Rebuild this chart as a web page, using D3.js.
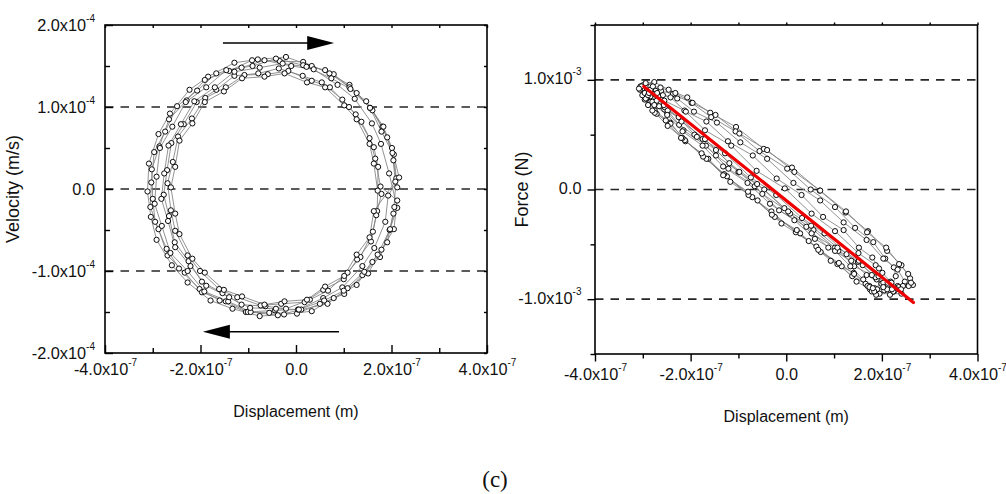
<!DOCTYPE html>
<html>
<head>
<meta charset="utf-8">
<script src="https://cdn.jsdelivr.net/npm/d3@7"></script>
<style>
  html, body { margin: 0; padding: 0; background: #fff; }
  svg { display: block; }
</style>
</head>
<body>
<svg id="chart" width="1006" height="494"></svg>
<script>
// Units used in the data arrays: displacement ×1e-7 m, velocity ×1e-4 m/s, force ×1e-3 N
const DISP_UNIT = 1e-7, VEL_UNIT = 1e-4, FORCE_UNIT = 1e-3;

// Phase-plane loops: [displacement, velocity]
const velocityLoop1 = [[2.12,0.02],[2.04,0.35],[1.91,0.63],[1.60,0.96],[1.27,1.17],[0.79,1.40],[0.33,1.50],[-0.21,1.61],[-0.80,1.58],[-1.29,1.54],[-1.84,1.37],[-2.23,1.21],[-2.64,0.92],[-2.88,0.67],[-3.08,0.31],[-3.11,-0.03],[-3.04,-0.34],[-2.92,-0.62],[-2.60,-0.93],[-2.27,-1.14],[-1.79,-1.36],[-1.33,-1.46],[-0.76,-1.55],[-0.25,-1.53],[0.33,-1.49],[0.79,-1.33],[1.27,-1.17],[1.60,-0.89],[1.91,-0.65],[2.04,-0.30]];
const velocityLoop2 = [[2.10,0.13],[2.05,0.42],[1.81,0.76],[1.55,0.99],[1.12,1.27],[0.70,1.41],[0.15,1.55],[-0.34,1.56],[-0.92,1.57],[-1.40,1.44],[-1.91,1.33],[-2.29,1.08],[-2.66,0.85],[-2.86,0.52],[-3.02,0.24],[-3.00,-0.12],[-2.95,-0.40],[-2.71,-0.73],[-2.45,-0.97],[-2.02,-1.22],[-1.60,-1.36],[-1.05,-1.50],[-0.56,-1.51],[0.02,-1.52],[0.50,-1.40],[1.01,-1.28],[1.39,-1.05],[1.76,-0.83],[1.96,-0.50],[2.12,-0.23]];
const velocityLoop3 = [[1.95,0.19],[1.78,0.55],[1.59,0.80],[1.23,1.10],[0.87,1.27],[0.37,1.46],[-0.10,1.50],[-0.66,1.57],[-1.14,1.48],[-1.67,1.41],[-2.07,1.20],[-2.49,1.01],[-2.74,0.70],[-2.97,0.45],[-3.03,0.08],[-3.05,-0.22],[-2.88,-0.49],[-2.69,-0.81],[-2.33,-1.02],[-1.97,-1.26],[-1.47,-1.37],[-1.01,-1.50],[-0.44,-1.48],[0.04,-1.47],[0.57,-1.33],[0.97,-1.20],[1.39,-0.94],[1.64,-0.72],[1.87,-0.40],[1.93,-0.08]];
const velocityLoop4 = [[2.16,0.14],[2.01,0.50],[1.83,0.76],[1.47,1.07],[1.12,1.24],[0.61,1.45],[0.15,1.51],[-0.42,1.59],[-0.91,1.50],[-1.46,1.45],[-1.88,1.24],[-2.31,1.06],[-2.59,0.76],[-2.85,0.50],[-2.92,0.15],[-2.96,-0.18],[-2.81,-0.45],[-2.63,-0.78],[-2.27,-1.00],[-1.92,-1.25],[-1.42,-1.37],[-0.95,-1.50],[-0.38,-1.54],[0.11,-1.47],[0.66,-1.40],[1.08,-1.21],[1.51,-1.03],[1.79,-0.74],[2.05,-0.49],[2.12,-0.14]];
const velocityLoop5 = [[1.77,0.03],[1.66,0.37],[1.54,0.62],[1.25,0.91],[0.97,1.09],[0.54,1.30],[0.14,1.38],[-0.36,1.47],[-0.79,1.41],[-1.29,1.38],[-1.67,1.21],[-2.08,1.06],[-2.35,0.79],[-2.61,0.56],[-2.70,0.23],[-2.77,-0.07],[-2.66,-0.33],[-2.54,-0.65],[-2.25,-0.88],[-1.97,-1.13],[-1.54,-1.27],[-1.14,-1.41],[-0.64,-1.43],[-0.21,-1.46],[0.29,-1.35],[0.67,-1.24],[1.08,-1.02],[1.35,-0.83],[1.61,-0.52],[1.70,-0.27]];
const velocityLoop6 = [[1.72,0.27],[1.63,0.51],[1.37,0.82],[1.11,1.00],[0.71,1.24],[0.33,1.32],[-0.16,1.44],[-0.59,1.40],[-1.08,1.39],[-1.47,1.24],[-1.90,1.11],[-2.18,0.86],[-2.47,0.64],[-2.58,0.33],[-2.69,0.07],[-2.62,-0.26],[-2.53,-0.51],[-2.27,-0.81],[-2.01,-1.00],[-1.61,-1.22],[-1.23,-1.32],[-0.74,-1.42],[-0.31,-1.40],[0.18,-1.38],[0.57,-1.23],[1.00,-1.10],[1.28,-0.86],[1.57,-0.64],[1.68,-0.32],[1.79,-0.06]];
const velocityLoop7 = [[1.71,-0.02],[1.63,0.31],[1.54,0.55],[1.27,0.85],[1.01,1.02],[0.61,1.24],[0.23,1.30],[-0.24,1.41],[-0.66,1.37],[-1.13,1.35],[-1.51,1.19],[-1.91,1.06],[-2.17,0.80],[-2.44,0.59],[-2.53,0.27],[-2.62,0.02],[-2.53,-0.30],[-2.44,-0.55],[-2.17,-0.85],[-1.91,-1.02],[-1.51,-1.23],[-1.13,-1.31],[-0.66,-1.41],[-0.24,-1.37],[0.23,-1.35],[0.61,-1.19],[1.01,-1.06],[1.27,-0.80],[1.54,-0.59],[1.63,-0.27]];
const velocityLoop8 = [[2.08,0.09],[2.02,0.44],[1.79,0.70],[1.55,0.99],[1.14,1.22],[0.74,1.35],[0.22,1.49],[-0.28,1.53],[-0.76,1.48],[-1.29,1.43],[-1.70,1.24],[-2.13,1.07],[-2.41,0.79],[-2.67,0.53],[-2.76,0.19],[-2.82,-0.12],[-2.68,-0.39],[-2.53,-0.71],[-2.21,-0.94],[-1.88,-1.18],[-1.40,-1.32],[-0.96,-1.45],[-0.42,-1.46],[0.06,-1.47],[0.59,-1.36],[1.00,-1.24],[1.43,-1.01],[1.71,-0.80],[1.97,-0.49],[2.06,-0.22]];

// Force–displacement sweeps: [displacement, force]
const forceSweep1 = [[-3.00,0.95],[-2.94,0.97],[-2.76,0.98],[-2.46,0.91],[-2.07,0.84],[-1.59,0.70],[-1.05,0.57],[-0.47,0.37],[0.12,0.20],[0.70,-0.01],[1.24,-0.21],[1.71,-0.38],[2.11,-0.56],[2.41,-0.69],[2.59,-0.81],[2.65,-0.87]];
const forceSweep2 = [[2.25,-0.93],[2.17,-0.96],[2.05,-0.92],[1.74,-0.88],[1.41,-0.76],[0.93,-0.65],[0.47,-0.47],[-0.10,-0.31],[-0.60,-0.10],[-1.17,0.07],[-1.63,0.28],[-2.11,0.44],[-2.43,0.61],[-2.75,0.72],[-2.88,0.83],[-2.96,0.87]];
const forceSweep3 = [[-3.05,0.94],[-3.00,0.92],[-2.81,0.93],[-2.55,0.81],[-2.13,0.72],[-1.70,0.54],[-1.15,0.40],[-0.62,0.17],[-0.03,0.01],[0.53,-0.22],[1.02,-0.38],[1.51,-0.58],[1.87,-0.69],[2.18,-0.84],[2.33,-0.88],[2.41,-0.95]];
const forceSweep4 = [[1.95,-0.95],[1.88,-0.96],[1.75,-0.91],[1.47,-0.84],[1.16,-0.70],[0.72,-0.57],[0.29,-0.40],[-0.24,-0.25],[-0.71,-0.07],[-1.24,0.12],[-1.67,0.28],[-2.12,0.45],[-2.42,0.60],[-2.71,0.69],[-2.84,0.80],[-2.91,0.84]];
const forceSweep5 = [[-2.85,0.90],[-2.80,0.93],[-2.62,0.90],[-2.37,0.87],[-1.98,0.79],[-1.57,0.66],[-1.06,0.53],[-0.56,0.35],[0.02,0.19],[0.51,0.00],[1.02,-0.16],[1.44,-0.35],[1.82,-0.48],[2.07,-0.63],[2.25,-0.71],[2.29,-0.79]];
const forceSweep6 = [[2.20,-0.90],[2.12,-0.87],[1.99,-0.86],[1.68,-0.78],[1.36,-0.65],[0.88,-0.53],[0.42,-0.34],[-0.15,-0.19],[-0.66,0.03],[-1.21,0.19],[-1.68,0.40],[-2.15,0.54],[-2.49,0.70],[-2.80,0.80],[-2.93,0.90],[-3.01,0.92]];
const forceSweep7 = [[-2.80,0.88],[-2.73,0.90],[-2.58,0.86],[-2.28,0.83],[-1.93,0.71],[-1.45,0.61],[-0.96,0.43],[-0.40,0.28],[0.15,0.06],[0.71,-0.10],[1.20,-0.30],[1.68,-0.46],[2.03,-0.63],[2.33,-0.73],[2.48,-0.84],[2.56,-0.88]];
const forceSweep8 = [[1.85,-0.90],[1.79,-0.93],[1.66,-0.86],[1.38,-0.79],[1.07,-0.68],[0.63,-0.52],[0.20,-0.39],[-0.31,-0.20],[-0.79,-0.05],[-1.30,0.14],[-1.74,0.30],[-2.17,0.47],[-2.48,0.58],[-2.75,0.70],[-2.89,0.77],[-2.96,0.82]];
const forceSweep9 = [[-3.06,0.91],[-2.98,0.87],[-2.84,0.85],[-2.55,0.73],[-2.21,0.65],[-1.75,0.46],[-1.28,0.33],[-0.74,0.11],[-0.21,-0.05],[0.33,-0.26],[0.80,-0.40],[1.26,-0.59],[1.60,-0.69],[1.89,-0.82],[2.03,-0.85],[2.11,-0.91]];
const forceSweep10 = [[2.35,-0.89],[2.30,-0.91],[2.12,-0.85],[1.87,-0.80],[1.50,-0.66],[1.09,-0.56],[0.57,-0.37],[0.08,-0.22],[-0.46,0.00],[-1.00,0.16],[-1.47,0.36],[-1.92,0.50],[-2.25,0.66],[-2.54,0.75],[-2.68,0.85],[-2.76,0.87]];
const forceSweep11 = [[-2.91,0.90],[-2.84,0.94],[-2.70,0.88],[-2.42,0.84],[-2.10,0.71],[-1.67,0.62],[-1.22,0.44],[-0.70,0.31],[-0.20,0.10],[0.32,-0.05],[0.77,-0.25],[1.20,-0.37],[1.52,-0.53],[1.80,-0.62],[1.94,-0.72],[2.01,-0.76]];
const forceSweep12 = [[1.90,-0.91],[1.84,-0.93],[1.70,-0.88],[1.42,-0.77],[1.10,-0.67],[0.67,-0.55],[0.22,-0.37],[-0.30,-0.23],[-0.80,-0.02],[-1.32,0.13],[-1.77,0.33],[-2.20,0.47],[-2.52,0.63],[-2.80,0.72],[-2.94,0.83],[-3.01,0.86]];
const forceSweep13 = [[-2.84,0.91],[-2.79,0.94],[-2.63,0.93],[-2.32,0.88],[-1.96,0.79],[-1.48,0.68],[-0.98,0.51],[-0.40,0.36],[0.17,0.16],[0.71,-0.01],[1.25,-0.20],[1.69,-0.39],[2.09,-0.53],[2.36,-0.68],[2.55,-0.77],[2.61,-0.85]];
const forceSweep14 = [[2.24,-0.93],[2.21,-0.91],[2.03,-0.89],[1.79,-0.78],[1.42,-0.70],[1.02,-0.53],[0.53,-0.40],[0.04,-0.20],[-0.50,-0.04],[-0.98,0.16],[-1.47,0.31],[-1.87,0.48],[-2.24,0.59],[-2.48,0.72],[-2.66,0.76],[-2.71,0.81]];
const forceSweep15 = [[-2.96,0.88],[-2.89,0.86],[-2.76,0.77],[-2.49,0.68],[-2.17,0.53],[-1.75,0.40],[-1.32,0.21],[-0.81,0.06],[-0.34,-0.13],[0.17,-0.28],[0.60,-0.45],[1.02,-0.56],[1.34,-0.70],[1.61,-0.82],[1.74,-0.89],[1.81,-0.90]];
const forceSweep16 = [[2.44,-0.88],[2.40,-0.91],[2.20,-0.85],[1.93,-0.79],[1.52,-0.65],[1.07,-0.53],[0.52,-0.33],[-0.04,-0.17],[-0.61,0.05],[-1.19,0.24],[-1.70,0.46],[-2.19,0.62],[-2.56,0.77],[-2.87,0.88],[-3.03,0.94],[-3.08,0.92]];

// Linear fit of force against displacement: end points
const forceFit = [[-2.98, 0.94], [2.66, -1.03]];

// Axis ticks (SI units)
const dispTicks = [-4e-7, -2e-7, 0, 2e-7, 4e-7];
const dispMinorTicks = [-3e-7, -1e-7, 1e-7, 3e-7];
const velTicks = [-2e-4, -1e-4, 0, 1e-4, 2e-4];
const velMinorTicks = [-1.5e-4, -0.5e-4, 0.5e-4, 1.5e-4];
const forceTicks = [-1e-3, 0, 1e-3];
const forceMinorTicks = [-1.5e-3, -0.5e-3, 0.5e-3, 1.5e-3];

// Dashed reference levels
const velGuides = [-1e-4, 0, 1e-4];
const forceGuides = [-1e-3, 0, 1e-3];

// Direction-of-motion arrows in the phase plane: [displacement, velocity]
const motionArrows = [
  { from: [-1.53, 1.78], to: [0.80, 1.78] },
  { from: [0.90, -1.74], to: [-1.95, -1.74] }
];

const svg = d3.select("#chart");
const FONT = '"Liberation Sans", Arial, Helvetica, sans-serif';

function sciLabel(t, v) {
  if (v === 0) { t.append("tspan").text("0.0"); return; }
  const e = Math.floor(Math.log10(Math.abs(v)) + 1e-9);
  const m = v / Math.pow(10, e);
  t.append("tspan").text(m.toFixed(1) + "x10");
  t.append("tspan").attr("font-size", 10).attr("dy", -9).text(String(e));
}

function drawPanel(o) {
  const { box, x, y } = o;
  const g = svg.append("g");

  // dashed guides
  g.selectAll("line.guide").data(o.guides).join("line")
    .attr("class", "guide")
    .attr("x1", box.x0).attr("x2", box.x1)
    .attr("y1", d => y(d)).attr("y2", d => y(d))
    .attr("stroke", "#262626").attr("stroke-width", 1.6)
    .attr("stroke-dasharray", "8.5,7");

  // connected data trace
  const pts = o.traces.flat().map(([a, b]) => [a * DISP_UNIT, b * o.yUnit]);
  const line = d3.line().x(d => x(d[0])).y(d => y(d[1]));
  g.append("path").attr("d", line(pts))
    .attr("fill", "none").attr("stroke", "#808080").attr("stroke-width", 0.85);
  g.selectAll("circle.pt").data(pts).join("circle")
    .attr("class", "pt")
    .attr("cx", d => x(d[0])).attr("cy", d => y(d[1])).attr("r", 2.6)
    .attr("fill", "#fff").attr("stroke", "#000").attr("stroke-width", 0.95);

  // fit line
  if (o.fit) {
    const fp = o.fit.map(([a, b]) => [a * DISP_UNIT, b * o.yUnit]);
    g.append("path").attr("d", line(fp))
      .attr("fill", "none").attr("stroke", "#ee0000").attr("stroke-width", 3.2)
      .attr("stroke-linecap", "round");
  }

  // arrows
  (o.arrows || []).forEach(a => {
    const x0 = x(a.from[0] * DISP_UNIT), x1 = x(a.to[0] * DISP_UNIT);
    const yy = y(a.from[1] * o.yUnit);
    const dir = Math.sign(x1 - x0), head = 27, hw = 7;
    g.append("line").attr("x1", x0).attr("x2", x1 - dir * (head - 2))
      .attr("y1", yy).attr("y2", yy).attr("stroke", "#000").attr("stroke-width", 1.6);
    g.append("path")
      .attr("d", `M${x1},${yy}L${x1 - dir * head},${yy - hw}L${x1 - dir * head},${yy + hw}Z`)
      .attr("fill", "#000");
  });

  // frame
  g.append("rect").attr("x", box.x0).attr("y", box.y0)
    .attr("width", box.x1 - box.x0).attr("height", box.y1 - box.y0)
    .attr("fill", "none").attr("stroke", "#000").attr("stroke-width", 1.6);

  const s = o.inward ? -1 : 1;
  function axis(a, tr) {
    const ag = g.append("g").attr("transform", tr).call(a.tickSizeOuter(0).tickFormat(""));
    ag.select(".domain").remove();
    ag.selectAll(".tick line").attr("stroke", "#000").attr("stroke-width", 1.4);
    return ag;
  }
  const xMajor = axis(d3.axisBottom(x).tickValues(o.xTicks).tickSizeInner(s * o.majorLen), `translate(0,${box.y1})`);
  axis(d3.axisBottom(x).tickValues(o.xMinor).tickSizeInner(s * o.minorLen), `translate(0,${box.y1})`).selectAll("text").remove();
  const yMajor = axis(d3.axisLeft(y).tickValues(o.yTicks).tickSizeInner(s * o.majorLen), `translate(${box.x0},0)`);
  axis(d3.axisLeft(y).tickValues(o.yMinor).tickSizeInner(s * o.minorLen), `translate(${box.x0},0)`).selectAll("text").remove();
  axis(d3.axisTop(x).tickValues(o.xTicks.concat(o.xMinor)).tickSizeInner(s * o.mirrorLen), `translate(0,${box.y0})`).selectAll("text").remove();
  if (o.mirrorRight) {
    axis(d3.axisRight(y).tickValues(o.yTicks.concat(o.yMinor)).tickSizeInner(s * o.mirrorLen), `translate(${box.x1},0)`).selectAll("text").remove();
  }

  xMajor.selectAll(".tick text").each(function (d) {
    const t = d3.select(this).text(null)
      .attr("x", 0).attr("y", o.xLabelDy).attr("dy", null)
      .attr("text-anchor", "middle").attr("font-family", FONT)
      .attr("font-size", 16.3).attr("fill", "#111");
    sciLabel(t, d);
  });
  yMajor.selectAll(".tick text").each(function (d) {
    const t = d3.select(this).text(null)
      .attr("x", -o.yLabelGap).attr("y", o.yLabelDy).attr("dy", null)
      .attr("text-anchor", "end").attr("font-family", FONT)
      .attr("font-size", 16.3).attr("fill", "#111");
    sciLabel(t, d);
  });

  // titles
  g.append("text").attr("x", (box.x0 + box.x1) / 2).attr("y", o.xTitleY)
    .attr("text-anchor", "middle").attr("font-family", FONT).attr("font-size", 16)
    .attr("fill", "#111").text(o.xTitle);
  g.append("text")
    .attr("transform", `translate(${o.yTitleX},${(box.y0 + box.y1) / 2}) rotate(-90)`)
    .attr("text-anchor", "middle").attr("font-family", FONT).attr("font-size", 18)
    .attr("fill", "#111").text(o.yTitle);
}

// Left: velocity vs displacement
const leftBox = { x0: 105, x1: 487, y0: 25, y1: 353 };
drawPanel({
  box: leftBox,
  x: d3.scaleLinear([-4e-7, 4e-7], [leftBox.x0, leftBox.x1]),
  y: d3.scaleLinear([-2e-4, 2e-4], [leftBox.y1, leftBox.y0]),
  yUnit: VEL_UNIT,
  traces: [velocityLoop1, velocityLoop2, velocityLoop3, velocityLoop4,
           velocityLoop5, velocityLoop6, velocityLoop7, velocityLoop8],
  guides: velGuides,
  arrows: motionArrows,
  xTicks: dispTicks, xMinor: dispMinorTicks,
  yTicks: velTicks, yMinor: velMinorTicks,
  inward: true, majorLen: 8, minorLen: 5, mirrorLen: 3, mirrorRight: true,
  xLabelDy: 22, yLabelGap: 10, yLabelDy: 5,
  xTitle: "Displacement (m)", xTitleY: 416.5,
  yTitle: "Velocity (m/s)", yTitleX: 19
});

// Right: force vs displacement
const rightBox = { x0: 595, x1: 977.5, y0: 25, y1: 354 };
drawPanel({
  box: rightBox,
  x: d3.scaleLinear([-4e-7, 4e-7], [rightBox.x0, rightBox.x1]),
  y: d3.scaleLinear([-1.5e-3, 1.5e-3], [rightBox.y1, rightBox.y0]),
  yUnit: FORCE_UNIT,
  traces: [forceSweep1, forceSweep2, forceSweep3, forceSweep4, forceSweep5, forceSweep6,
           forceSweep7, forceSweep8, forceSweep9, forceSweep10, forceSweep11, forceSweep12,
           forceSweep13, forceSweep14, forceSweep15, forceSweep16],
  guides: forceGuides,
  fit: forceFit,
  xTicks: dispTicks, xMinor: dispMinorTicks,
  yTicks: forceTicks, yMinor: forceMinorTicks,
  inward: false, majorLen: 7.5, minorLen: 4.5, mirrorLen: 2.5, mirrorRight: false,
  xLabelDy: 26, yLabelGap: 13.5, yLabelDy: 4,
  xTitle: "Displacement (m)", xTitleY: 421.5,
  yTitle: "Force (N)", yTitleX: 527.5
});

// Panel caption
svg.append("text").attr("x", 495).attr("y", 487)
  .attr("text-anchor", "middle")
  .attr("font-family", '"Liberation Serif", "DejaVu Serif", serif')
  .attr("font-size", 23).attr("fill", "#111").text("(c)");
</script>
</body>
</html>
